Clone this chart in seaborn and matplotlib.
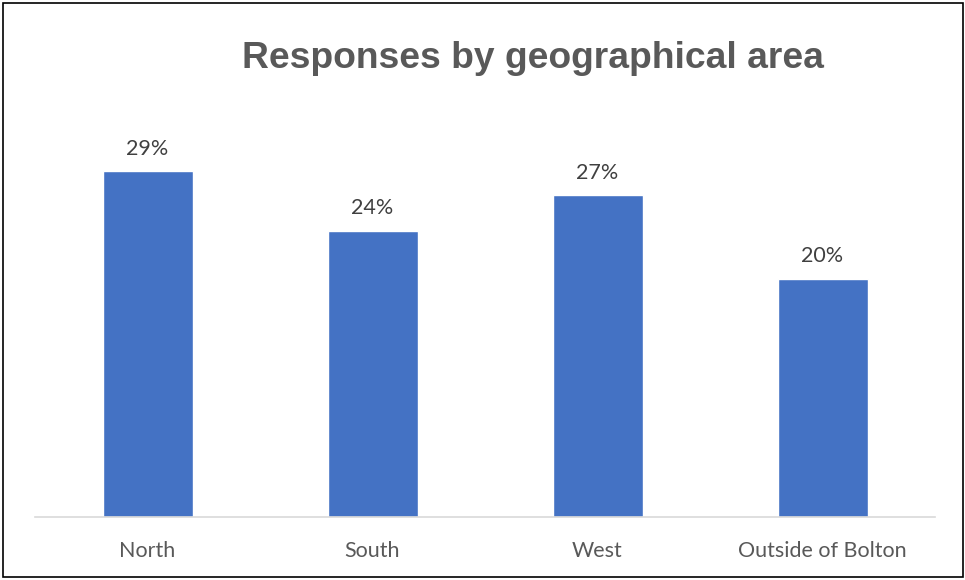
import matplotlib
matplotlib.use("Agg")
import matplotlib.pyplot as plt
import seaborn as sns
import pandas as pd
from matplotlib.patches import Rectangle

categories = ["North", "South", "West", "Outside of Bolton"]
values = [29, 24, 27, 20]
labels = ["29%", "24%", "27%", "20%"]
title = "Responses by geographical area"

sns.set_theme(style="white")
plt.rcParams['font.family'] = ['Lato', 'DejaVu Sans']

W, H = 965, 580
fig = plt.figure(figsize=(W/100, H/100), dpi=100)
ax = fig.add_axes([35/W, 1-517/H, 900/W, 417/H])

df = pd.DataFrame({"area": categories, "pct": values})
sns.barplot(data=df, x="area", y="pct", color="#4472C4", saturation=1, width=0.4, ax=ax)
ax.set_ylim(0, 35)
ax.set_xlim(-0.5, 3.5)
for i, (v, lab) in enumerate(zip(values, labels)):
    ax.text(i, v + 1.9, lab, ha="center", va="center", fontsize=15.5, color="#404040")

for s in ["top", "left", "right"]:
    ax.spines[s].set_visible(False)
ax.spines["bottom"].set_color("#D9D9D9")
ax.spines["bottom"].set_linewidth(1.2)
ax.set_yticks([])
ax.set_xlabel("")
ax.set_ylabel("")
ax.tick_params(axis="x", length=0, pad=17, labelsize=15.5, labelcolor="#595959")

fig.text(533/W, 1-59/H, title, ha="center", va="center", fontsize=26.8,
         fontweight="bold", color="#595959", family=["Liberation Sans", "DejaVu Sans"])

fig.patches.append(Rectangle((3/W, 3/H), 960/W, 574/H, transform=fig.transFigure,
                             fill=False, edgecolor="black", linewidth=1.2))

fig.savefig("out.png", dpi=100)
